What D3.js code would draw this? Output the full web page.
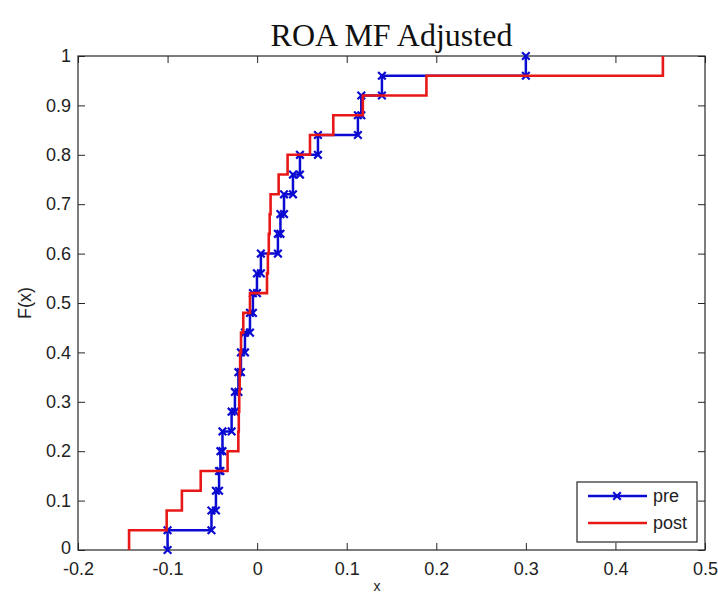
<!DOCTYPE html>
<html>
<head>
<meta charset="utf-8">
<script src="https://cdn.jsdelivr.net/npm/d3@7"></script>
<style>
  html, body { margin: 0; padding: 0; background: #ffffff; }
  svg { display: block; }
</style>
</head>
<body>
<svg id="chart" width="718" height="596"></svg>
<script>
// Sorted sample values for the two empirical CDFs
const preValues = [
  -0.100, -0.051, -0.046, -0.0425, -0.041, -0.0387, -0.0285, -0.0248, -0.0209,
  -0.0181, -0.0136, -0.008, -0.0047, -0.0002, 0.0042, 0.0232, 0.026, 0.030,
  0.040, 0.0478, 0.0679, 0.1125, 0.1163, 0.1393, 0.300
];
const postValues = [
  -0.143, -0.101, -0.084, -0.063, -0.033, -0.021, -0.0205, -0.020, -0.0195,
  -0.019, -0.018, -0.0155, -0.008, 0.011, 0.012, 0.013, 0.014, 0.015,
  0.024, 0.034, 0.059, 0.085, 0.118, 0.189, 0.453
];
const seriesNames = ["pre", "post"];
const xTicks = [-0.2, -0.1, 0, 0.1, 0.2, 0.3, 0.4, 0.5];
const yTicks = [0, 0.1, 0.2, 0.3, 0.4, 0.5, 0.6, 0.7, 0.8, 0.9, 1];
const titleText = "ROA MF Adjusted";
const xLabel = "x";
const yLabel = "F(x)";

const svg = d3.select("#chart");
const box = { left: 78, top: 56, right: 705, bottom: 550 };

const x = d3.scaleLinear().domain([-0.2, 0.5]).range([box.left, box.right]);
const y = d3.scaleLinear().domain([0, 1]).range([box.bottom, box.top]);

// Staircase vertices of an empirical CDF: (v0,0),(v0,1/n),(v1,1/n),...,(v_{n-1},1)
function ecdfStairs(values) {
  const v = values.slice().sort((a, b) => a - b);
  const n = v.length;
  const pts = [];
  v.forEach((val, i) => {
    pts.push([val, i / n]);
    pts.push([val, (i + 1) / n]);
  });
  return pts;
}

const fmt = d => (d === 0 ? "0" : String(d));
const tickFont = "'Liberation Sans', Arial, sans-serif";

// Axes box with inward ticks on all four sides
const axisColor = "#262626";
function styleAxis(g) {
  g.select(".domain").remove();
  g.selectAll(".tick line").attr("stroke", axisColor).attr("stroke-width", 1);
  g.selectAll(".tick text").attr("fill", "#222").style("font-family", tickFont).style("font-size", "18px");
}

svg.append("g")
  .attr("transform", `translate(0,${box.bottom})`)
  .call(d3.axisBottom(x).tickValues(xTicks).tickFormat(fmt).tickSizeInner(-7).tickSizeOuter(0).tickPadding(10))
  .call(styleAxis)
  .selectAll(".tick text").attr("dy", "0.71em").attr("y", 12);

svg.append("g")
  .attr("transform", `translate(0,${box.top})`)
  .call(d3.axisTop(x).tickValues(xTicks).tickFormat("").tickSizeInner(-7).tickSizeOuter(0))
  .call(styleAxis);

const yAxisG = svg.append("g")
  .attr("transform", `translate(${box.left},0)`)
  .call(d3.axisLeft(y).tickValues(yTicks).tickFormat(fmt).tickSizeInner(-7).tickSizeOuter(0).tickPadding(7))
  .call(styleAxis);
// lift the corner "0" a touch so it clears the first x label
yAxisG.selectAll(".tick text").filter(d => d === 0).attr("y", -2);

svg.append("g")
  .attr("transform", `translate(${box.right},0)`)
  .call(d3.axisRight(y).tickValues(yTicks).tickFormat("").tickSizeInner(-7).tickSizeOuter(0))
  .call(styleAxis);

svg.append("rect")
  .attr("x", box.left).attr("y", box.top)
  .attr("width", box.right - box.left).attr("height", box.bottom - box.top)
  .attr("fill", "none").attr("stroke", axisColor).attr("stroke-width", 1.2);

// Curves
const line = d3.line().x(d => x(d[0])).y(d => y(d[1]));
const preColor = "#0a0ad2";
const postColor = "#e81818";

const prePts = ecdfStairs(preValues);
const postPts = ecdfStairs(postValues);

svg.append("path").datum(prePts)
  .attr("d", line).attr("fill", "none")
  .attr("stroke", preColor).attr("stroke-width", 2.5).attr("stroke-linejoin", "miter");

function drawX(g, cx, cy, r, color) {
  g.append("path")
    .attr("d", `M${cx - r},${cy - r}L${cx + r},${cy + r}M${cx - r},${cy + r}L${cx + r},${cy - r}`)
    .attr("stroke", color).attr("stroke-width", 2.2).attr("fill", "none");
}

const markers = svg.append("g");
prePts.forEach(p => drawX(markers, x(p[0]), y(p[1]), 3.8, preColor));

svg.append("path").datum(postPts)
  .attr("d", line).attr("fill", "none")
  .attr("stroke", postColor).attr("stroke-width", 2.6).attr("stroke-linejoin", "miter");

// Title and axis labels
svg.append("text")
  .attr("x", (box.left + box.right) / 2).attr("y", 46)
  .attr("text-anchor", "middle")
  .style("font-family", "'Liberation Serif', 'Times New Roman', serif")
  .style("font-size", "32px").attr("fill", "#111")
  .text(titleText);

svg.append("text")
  .attr("x", 377).attr("y", 591)
  .attr("text-anchor", "middle")
  .style("font-family", tickFont).style("font-size", "14px").attr("fill", "#222")
  .text(xLabel);

svg.append("text")
  .attr("transform", `translate(31,${(box.top + box.bottom) / 2}) rotate(-90)`)
  .attr("text-anchor", "middle")
  .style("font-family", tickFont).style("font-size", "18px").attr("fill", "#222")
  .text(yLabel);

// Legend
const leg = svg.append("g");
leg.append("rect")
  .attr("x", 577).attr("y", 482).attr("width", 120).attr("height", 60)
  .attr("fill", "#fff").attr("stroke", axisColor).attr("stroke-width", 1.2);
const legColors = [preColor, postColor];
seriesNames.forEach((name, i) => {
  const ly = 496 + i * 27;
  leg.append("line")
    .attr("x1", 588).attr("x2", 647).attr("y1", ly).attr("y2", ly)
    .attr("stroke", legColors[i]).attr("stroke-width", 2.6);
  if (i === 0) drawX(leg, 617, ly, 3.8, preColor);
  leg.append("text")
    .attr("x", 653).attr("y", ly + 6)
    .style("font-family", tickFont).style("font-size", "18px").attr("fill", "#222")
    .text(name);
});
</script>
</body>
</html>
